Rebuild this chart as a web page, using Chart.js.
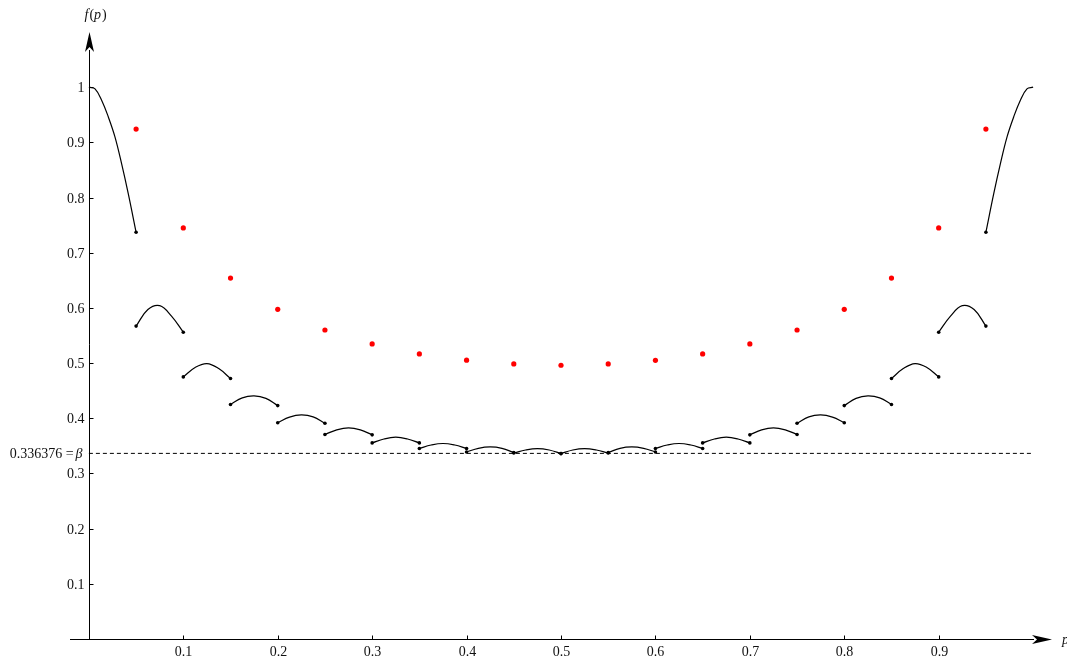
<!DOCTYPE html>
<html>
<head>
<meta charset="utf-8">
<script src="https://cdn.jsdelivr.net/npm/chart.js@4"></script>
<style>
  html, body { margin: 0; padding: 0; background: #fff; }
  #wrap { width: 1067px; height: 659px; }
</style>
</head>
<body>
<div id="wrap"><canvas id="chart" width="1067" height="659"></canvas></div>
<script>
// values
const xTicks = [0.1, 0.2, 0.3, 0.4, 0.5, 0.6, 0.7, 0.8, 0.9];
const yTicks = [0.1, 0.2, 0.3, 0.4, 0.5, 0.6, 0.7, 0.8, 0.9, 1];
const beta = 0.336376;

// red points
const redX = [0.05, 0.10, 0.15, 0.20, 0.25, 0.30, 0.35, 0.40, 0.45, 0.50,
              0.55, 0.60, 0.65, 0.70, 0.75, 0.80, 0.85, 0.90, 0.95];
const redY = [0.924, 0.745, 0.654, 0.5975, 0.560, 0.5347, 0.5166, 0.5052, 0.4985, 0.4961,
              0.4985, 0.505, 0.5166, 0.5347, 0.560, 0.5975, 0.654, 0.745, 0.924];

// black outer pieces
const leftEdgeX = [0, 0.0065, 0.0136, 0.0206, 0.0276, 0.0347, 0.0417, 0.05];
const leftEdgeY = [1, 0.997, 0.976, 0.946, 0.910, 0.861, 0.807, 0.737];
const rightEdgeX = [0.95, 0.9583, 0.9653, 0.9724, 0.9794, 0.9864, 0.9935, 1];
const rightEdgeY = [0.737, 0.807, 0.861, 0.910, 0.946, 0.976, 0.997, 1];

// black arcs: start x of each piece, sample offsets inside a piece, y at those samples
const arcStarts = [0.05, 0.10, 0.15, 0.20, 0.25, 0.30, 0.35, 0.40, 0.45,
                   0.50, 0.55, 0.60, 0.65, 0.70, 0.75, 0.80, 0.85, 0.90];
const arcOffsets = [0, 0.0125, 0.025, 0.0375, 0.05];
const arcValues = [
  [0.567, 0.597, 0.604, 0.585, 0.556],
  [0.475, 0.492, 0.499, 0.490, 0.472],
  [0.425, 0.437, 0.4405, 0.436, 0.423],
  [0.392, 0.402, 0.406, 0.4025, 0.391],
  [0.3706, 0.379, 0.3826, 0.379, 0.370],
  [0.3554, 0.3625, 0.3657, 0.3625, 0.3554],
  [0.3453, 0.3515, 0.3543, 0.3515, 0.3453],
  [0.339, 0.3455, 0.348, 0.3455, 0.338],
  [0.337, 0.3425, 0.345, 0.3425, 0.336],
  [0.336, 0.3425, 0.345, 0.3425, 0.337],
  [0.338, 0.3455, 0.348, 0.3455, 0.339],
  [0.3453, 0.3515, 0.3543, 0.3515, 0.3453],
  [0.3554, 0.3625, 0.3657, 0.3625, 0.3554],
  [0.370, 0.379, 0.3826, 0.379, 0.3706],
  [0.391, 0.4025, 0.406, 0.402, 0.392],
  [0.423, 0.436, 0.4405, 0.437, 0.425],
  [0.472, 0.490, 0.499, 0.492, 0.475],
  [0.556, 0.585, 0.604, 0.597, 0.567]
];

const serif = '"Liberation Serif", "DejaVu Serif", serif';
const ink = '#111';

function pts(xs, ys) {
  return xs.map((x, i) => ({ x: x, y: ys[i] }));
}

// dots at the ends of each piece, but not at x = 0 or x = 1
function dotRadius(ctx) {
  const n = ctx.dataset.data.length;
  const p = ctx.raw;
  if (!p || p.x === 0 || p.x === 1) return 0;
  return (ctx.dataIndex === 0 || ctx.dataIndex === n - 1) ? 1.8 : 0;
}

function curve(data) {
  return {
    data: data,
    showLine: true,
    borderColor: '#000',
    backgroundColor: '#000',
    borderWidth: 1.2,
    tension: 0.4,
    pointRadius: dotRadius,
    pointBorderWidth: 0,
    pointHoverRadius: 0
  };
}

const datasets = [];

datasets.push({
  data: [{ x: 0, y: beta }, { x: 1, y: beta }],
  showLine: true,
  borderColor: '#000',
  borderWidth: 1,
  borderDash: [4, 3],
  pointRadius: 0
});

datasets.push(curve(pts(leftEdgeX, leftEdgeY)));
arcStarts.forEach((s, i) => {
  datasets.push(curve(arcOffsets.map((o, k) => ({ x: s + o, y: arcValues[i][k] }))));
});
datasets.push(curve(pts(rightEdgeX, rightEdgeY)));

datasets.push({
  data: pts(redX, redY),
  showLine: false,
  backgroundColor: '#ff0000',
  borderWidth: 0,
  pointRadius: 2.6,
  pointHoverRadius: 2.6
});

const axesPlugin = {
  id: 'axesPlugin',
  afterDraw(chart) {
    const c = chart.ctx;
    const xs = chart.scales.x;
    const ys = chart.scales.y;
    const x0 = Math.round(xs.getPixelForValue(0)) + 0.5;
    const y0 = Math.round(ys.getPixelForValue(0)) + 0.5;
    const top = chart.chartArea.top;
    const right = chart.chartArea.right;
    const left = chart.chartArea.left;

    c.save();
    c.strokeStyle = '#000';
    c.fillStyle = '#000';
    c.lineWidth = 1;

    // x axis + arrow
    c.beginPath();
    c.moveTo(left, y0);
    c.lineTo(right - 18, y0);
    c.stroke();
    c.beginPath();
    c.moveTo(right, y0);
    c.lineTo(right - 20, y0 - 4.5);
    c.lineTo(right - 15, y0);
    c.lineTo(right - 20, y0 + 4.5);
    c.closePath();
    c.fill();

    // y axis + arrow
    c.beginPath();
    c.moveTo(x0, y0);
    c.lineTo(x0, top + 18);
    c.stroke();
    c.beginPath();
    c.moveTo(x0, top);
    c.lineTo(x0 - 4.5, top + 20);
    c.lineTo(x0, top + 15);
    c.lineTo(x0 + 4.5, top + 20);
    c.closePath();
    c.fill();

    // ticks and labels
    c.fillStyle = ink;
    c.font = '14px ' + serif;
    c.textAlign = 'center';
    c.textBaseline = 'alphabetic';
    xTicks.forEach(v => {
      const px = Math.round(xs.getPixelForValue(v)) + 0.5;
      c.beginPath();
      c.moveTo(px, y0);
      c.lineTo(px, y0 - 4);
      c.stroke();
      c.fillText(String(v), px, y0 + 16);
    });
    c.textAlign = 'right';
    c.textBaseline = 'middle';
    yTicks.forEach(v => {
      const py = Math.round(ys.getPixelForValue(v)) + 0.5;
      c.beginPath();
      c.moveTo(x0, py);
      c.lineTo(x0 + 4, py);
      c.stroke();
      c.fillText(String(v), x0 - 5, py + 1);
    });

    // beta label
    const by = ys.getPixelForValue(beta);
    c.font = 'italic 14px ' + serif;
    const bw = c.measureText('\u03B2').width;
    c.fillText('\u03B2', x0 - 7, by + 1);
    c.font = '14px ' + serif;
    c.fillText('0.336376 =', x0 - 9 - bw, by + 1);

    // axis titles
    c.textAlign = 'left';
    c.textBaseline = 'alphabetic';
    let tx = x0 - 5;
    const parts = [['f', true], ['(', false], ['p', true], [')', false]];
    parts.forEach(([t, it]) => {
      c.font = (it ? 'italic ' : '') + '14px ' + serif;
      c.fillText(t, tx, 19);
      tx += c.measureText(t).width + (it ? 1 : 0);
    });
    c.font = 'italic 14px ' + serif;
    c.fillText('p', right + 10, y0 + 4);

    c.restore();
  }
};

new Chart(document.getElementById('chart'), {
  type: 'scatter',
  data: { datasets: datasets },
  options: {
    responsive: false,
    devicePixelRatio: 1,
    animation: false,
    events: [],
    layout: { padding: { left: 70, right: 15, top: 32, bottom: 20 } },
    plugins: { legend: { display: false }, tooltip: { enabled: false } },
    scales: {
      x: { type: 'linear', min: -0.02, max: 1.02, display: false },
      y: { type: 'linear', min: 0, max: 1.1, display: false }
    },
    elements: { point: { borderWidth: 0 } }
  },
  plugins: [axesPlugin]
});
</script>
</body>
</html>
